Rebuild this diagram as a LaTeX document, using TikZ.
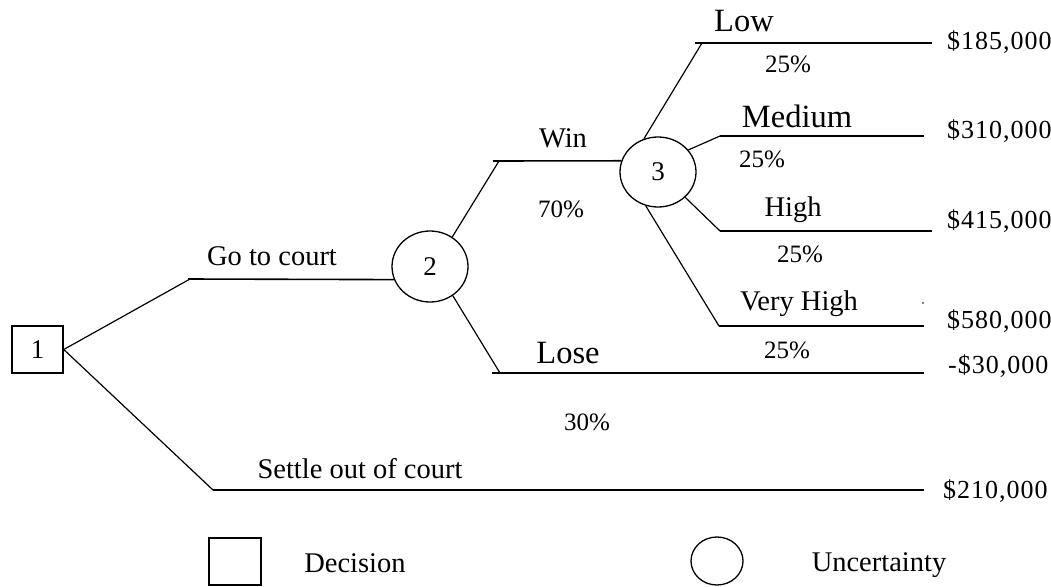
\documentclass[tikz,border=0pt]{standalone}
\usepackage{fontspec}
\setmainfont{Liberation Serif}
\newfontfamily\payofffont[LetterSpace=3.8]{Liberation Serif}
\usetikzlibrary{shapes.geometric}
\begin{document}
\begin{tikzpicture}[x=1pt,y=-1pt,
  branch/.style={line width=1.2pt},
  stem/.style={line width=1.6pt},
  decisionbox/.style={draw, line width=1.5pt, rectangle, minimum width=51pt,
    minimum height=47pt, inner sep=0pt, font=\fontsize{27}{30}\selectfont},
  chancenode/.style={draw, line width=1.3pt, ellipse, minimum width=76pt,
    minimum height=71pt, inner sep=0pt, font=\fontsize{27}{30}\selectfont},
  lbl/.style={anchor=base, inner sep=0pt, font=\fontsize{28.5}{31}\selectfont},
  biglbl/.style={lbl, font=\fontsize{32.5}{35}\selectfont},
  pct/.style={lbl, font=\fontsize{25}{28}\selectfont},
  payoff/.style={anchor=base west, inner sep=0pt, font=\payofffont\fontsize{26}{30}\selectfont},
]
\useasboundingbox (0,0) rectangle (1051,586);

% decision and chance nodes
\node[decisionbox] (n1) at (37.5,349.5) {1};
\node[chancenode] (n2) at (430,266.5) {2};
\node[chancenode, minimum height=70pt] (n3) at (658,172) {3};

% bends and ends of the branches
\coordinate (goBend) at (190,279);
\coordinate (goStart) at (188,279);
\coordinate (setBend) at (213,490);
\coordinate (setEnd) at (924,490);
\coordinate (winBend) at (499,161);
\coordinate (winStart) at (493,161);
\coordinate (loseBend) at (500,373);
\coordinate (loseStart) at (492,373);
\coordinate (loseEnd) at (924,373);
\coordinate (lowBend) at (702,43);
\coordinate (lowStart) at (695,43);
\coordinate (lowEnd) at (932,43);
\coordinate (medBend) at (720,136);
\coordinate (medEnd) at (924,136);
\coordinate (highBend) at (720,231);
\coordinate (highEnd) at (932,231);
\coordinate (vhBend) at (719,326);
\coordinate (vhEnd) at (924,326);

% branches out of the decision
\draw[branch] (n1.east) -- (goBend);
\draw[stem] (goStart) -- (n2.200);
\draw[branch] (n1.east) -- (setBend);
\draw[stem] (setBend) -- (setEnd);

% court outcome
\draw[branch] (n2.53) -- (winBend);
\draw[stem] (winStart) -- (n3.163);
\draw[branch] (n2.-52) -- (loseBend);
\draw[stem] (loseStart) -- (loseEnd);

% award levels
\draw[branch] (n3.113) -- (lowBend);
\draw[stem] (lowStart) -- (lowEnd);
\draw[branch] (n3.36) -- (medBend);
\draw[stem] (medBend) -- (medEnd);
\draw[branch] (n3.-43) -- (highBend);
\draw[stem] (highBend) -- (highEnd);
\draw[branch] (n3.250) -- (vhBend);
\draw[stem] (vhBend) -- (vhEnd);

% branch labels
\node[lbl] (tGo) at (272,265) {Go to court};
\node[lbl] (tSettle) at (360,478) {Settle out of court};
\node[lbl] (tWin) at (563,147) {Win};
\node[pct] (pWin) at (561,217) {70\%};
\node[biglbl] (tLose) at (568,363) {Lose};
\node[pct] (pLose) at (587,430) {30\%};
\node[biglbl] (tLow) at (744,32) {Low};
\node[pct] (pLow) at (788,73) {25\%};
\node[biglbl] (tMed) at (797,127) {Medium};
\node[pct] (pMed) at (762,167) {25\%};
\node[lbl] (tHigh) at (793,216) {High};
\node[pct] (pHigh) at (800,262) {25\%};
\node[lbl] (tVH) at (799,310) {Very High};
\node[pct] (pVH) at (787,358) {25\%};

% payoffs
\node[payoff] (v1) at (947,49) {\$185,000};
\node[payoff] (v2) at (947,138) {\$310,000};
\node[payoff] (v3) at (947,228) {\$415,000};
\node[payoff] (v4) at (947,328) {\$580,000};
\node[payoff] (v5) at (948,373) {-\$30,000};
\node[payoff] (v6) at (943,498) {\$210,000};
\fill (923,303) circle (0.9);

% legend
\node[decisionbox, minimum width=52pt] (legD) at (235,561.5) {};
\node[lbl] (legDt) at (355,572) {Decision};
\node[chancenode, minimum width=52pt, minimum height=48pt] (legU) at (717,561) {};
\node[lbl] (legUt) at (879,571) {Uncertainty};
\end{tikzpicture}
\end{document}
